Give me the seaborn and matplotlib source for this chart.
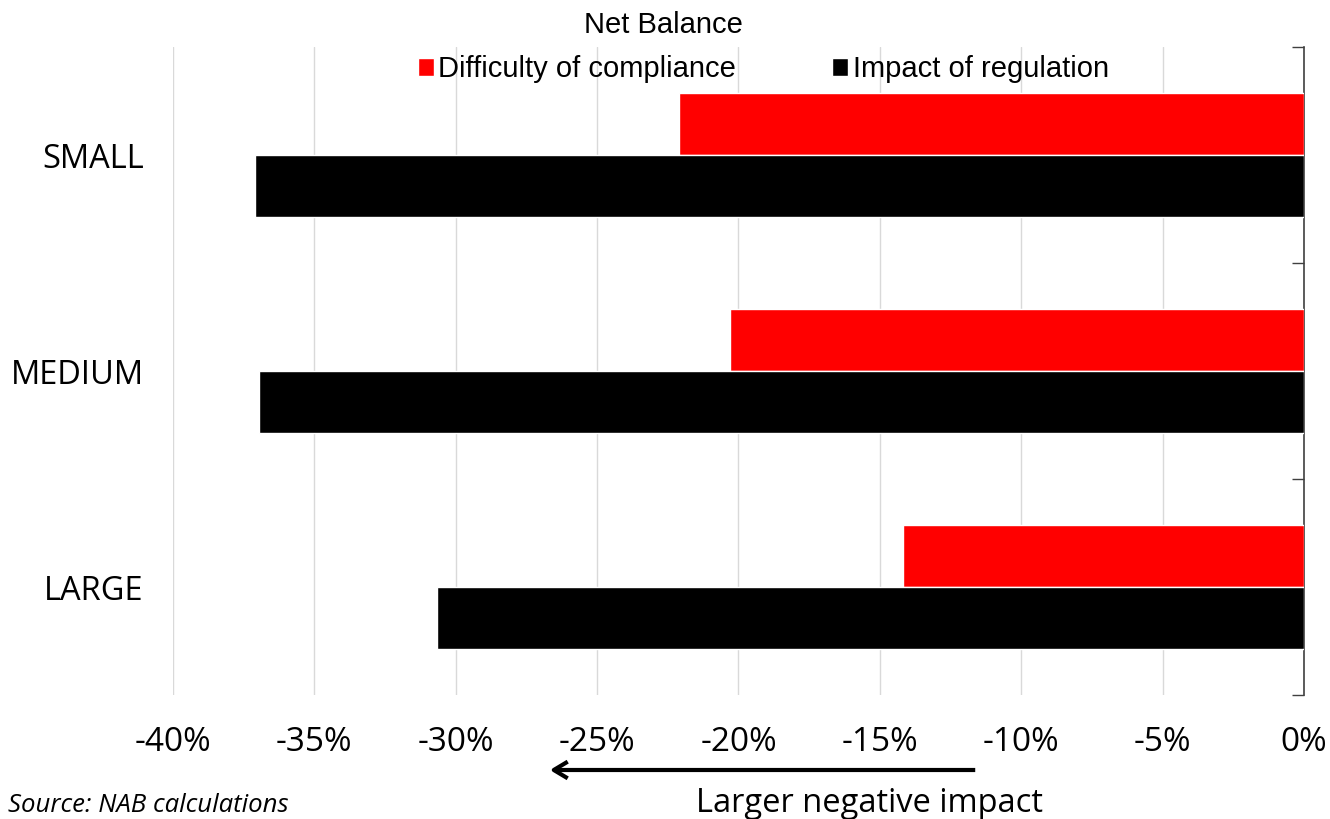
import pandas as pd
import numpy as np
import matplotlib
matplotlib.use("Agg")
import matplotlib.pyplot as plt
import seaborn as sns

# data (net balance, %)
sizes = ["SMALL", "MEDIUM", "LARGE"]
difficulty = [-22.1, -20.3, -14.2]
impact = [-37.1, -36.95, -30.65]
series_names = ["Difficulty of compliance", "Impact of regulation"]
x_ticks = [-40, -35, -30, -25, -20, -15, -10, -5, 0]

df = pd.DataFrame({
    "size": sizes * 2,
    "value": difficulty + impact,
    "series": [series_names[0]] * 3 + [series_names[1]] * 3,
})

sns.set_style("white")
plt.rcParams["font.family"] = ["Open Sans", "DejaVu Sans"]
plt.rcParams["text.color"] = "black"
plt.rcParams["xtick.color"] = "black"
plt.rcParams["ytick.color"] = "black"

fig = plt.figure(figsize=(13.3, 8.19), dpi=100)
ax = fig.add_axes([0.130, 0.1514, 0.8505, 0.7912])

sns.barplot(data=df, x="value", y="size", hue="series", order=sizes,
            hue_order=series_names, palette=["#ff0000", "#000000"],
            orient="h", width=0.575, saturation=1, ax=ax, zorder=3)

ax.set_xlim(-40, 0)
ax.set_ylim(2.5, -0.5)
ax.set_xticks(x_ticks)
ax.set_xticklabels([f"{t}%" for t in x_ticks], fontsize=24)
ax.set_xlabel("")
ax.set_ylabel("")
ax.tick_params(axis="x", length=0, pad=22)
ax.tick_params(axis="y", which="major", length=0, labelsize=23.5, pad=21)
ax.set_yticks([-0.5, 0.5, 1.5, 2.5], minor=True)
ax.tick_params(axis="y", which="minor", left=False, right=True,
               direction="in", length=9, width=1, color="#404040")
ax.grid(axis="x", color="#d9d9d9", linewidth=1, zorder=0)
ax.set_axisbelow(True)
for side in ["top", "bottom", "left"]:
    ax.spines[side].set_visible(False)
ax.spines["right"].set_color("#404040")
ax.spines["right"].set_linewidth(1.2)

handles, labels = ax.get_legend_handles_labels()
ax.legend(handles, labels, loc="upper center", bbox_to_anchor=(0.522, 1.01),
          ncol=2, frameon=False, handlelength=0.55, handleheight=0.55,
          handletextpad=0.15, columnspacing=3.3, borderaxespad=0.1,
          prop={"family": "Liberation Sans", "size": 21})

fig.text(0.499, 0.969, "Net Balance", ha="center", va="center",
         fontsize=21, family="Liberation Sans")

# arrow and annotation below the axis
fig.patches.append(matplotlib.patches.FancyArrowPatch(
    (978 / 1330, 1 - 770 / 819), (547 / 1330, 1 - 770 / 819),
    transform=fig.transFigure, arrowstyle="->,head_length=0.5,head_width=0.3",
    mutation_scale=20, linewidth=3, color="black", capstyle="butt"))
fig.text(0.654, 0.019, "Larger negative impact", ha="center", va="center",
         fontsize=23.5)
fig.text(0.006, 0.016, "Source: NAB calculations", ha="left", va="center",
         fontsize=18.5, style="italic")

fig.savefig("out.png", dpi=100)
